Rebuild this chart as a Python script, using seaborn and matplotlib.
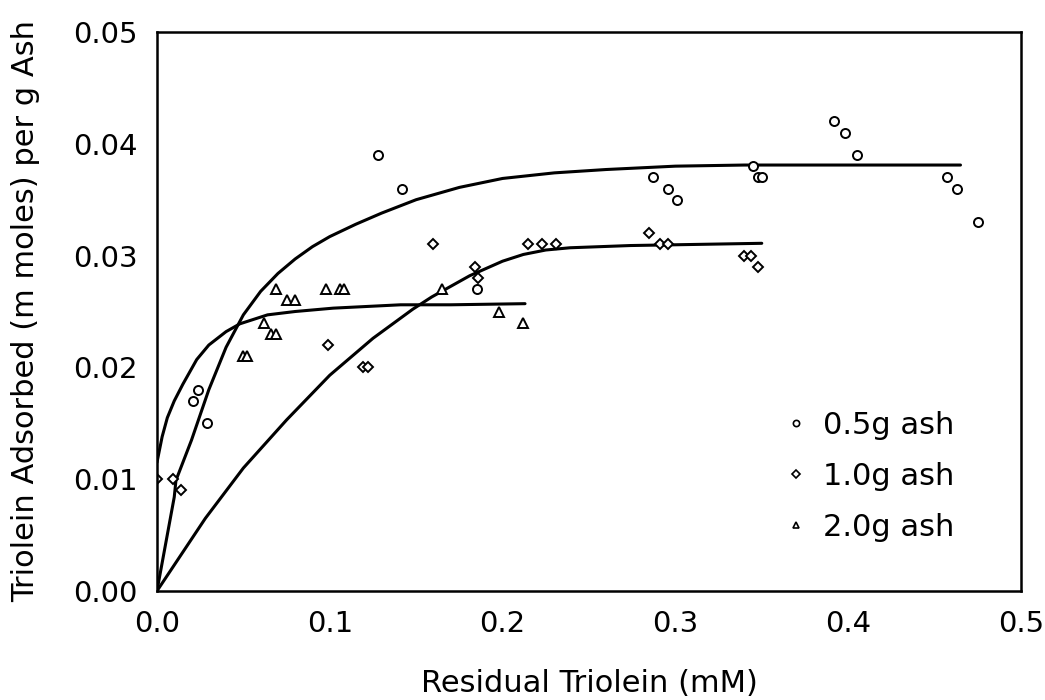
import numpy as np
import pandas as pd
import seaborn as sns
import matplotlib
matplotlib.use("Agg")
import matplotlib.pyplot as plt
from matplotlib.lines import Line2D

# measured points, residual triolein (mM) vs adsorbed (m moles / g ash)
x_05 = [0.021, 0.024, 0.029, 0.128, 0.142, 0.185, 0.287, 0.296, 0.301,
        0.345, 0.348, 0.350, 0.392, 0.398, 0.405, 0.457, 0.463, 0.475]
y_05 = [0.017, 0.018, 0.015, 0.039, 0.036, 0.027, 0.037, 0.036, 0.035,
        0.038, 0.037, 0.037, 0.042, 0.041, 0.039, 0.037, 0.036, 0.033]

x_10 = [0.000, 0.009, 0.014, 0.099, 0.119, 0.122, 0.160, 0.184, 0.186,
        0.215, 0.223, 0.231, 0.285, 0.291, 0.296, 0.340, 0.344, 0.348]
y_10 = [0.010, 0.010, 0.009, 0.022, 0.020, 0.020, 0.031, 0.029, 0.028,
        0.031, 0.031, 0.031, 0.032, 0.031, 0.031, 0.030, 0.030, 0.029]

x_20 = [0.050, 0.052, 0.062, 0.066, 0.069, 0.069, 0.075, 0.080, 0.098,
        0.106, 0.108, 0.165, 0.198, 0.212]
y_20 = [0.021, 0.021, 0.024, 0.023, 0.023, 0.027, 0.026, 0.026, 0.027,
        0.027, 0.027, 0.027, 0.025, 0.024]

# fitted curves
fit_x_05 = [0.0, 0.010, 0.011, 0.020, 0.030, 0.040, 0.050, 0.060, 0.070, 0.080,
            0.090, 0.100, 0.115, 0.130, 0.150, 0.175, 0.200, 0.230, 0.260, 0.300,
            0.340, 0.400, 0.465]
fit_y_05 = [0.0, 0.0084, 0.0099, 0.0135, 0.0180, 0.0218, 0.0247, 0.0268, 0.0284, 0.0297,
            0.0308, 0.0317, 0.0328, 0.0338, 0.0350, 0.0361, 0.0369, 0.0374, 0.0377, 0.0380,
            0.0381, 0.0381, 0.0381]

fit_x_10 = [0.0, 0.028, 0.050, 0.075, 0.100, 0.125, 0.148, 0.159, 0.181,
            0.200, 0.212, 0.225, 0.239, 0.274, 0.350]
fit_y_10 = [0.0, 0.0065, 0.0110, 0.0153, 0.0193, 0.0226, 0.0252, 0.0263, 0.0282,
            0.0295, 0.0301, 0.0305, 0.0307, 0.0309, 0.0311]

fit_x_20 = [0.0, 0.003, 0.006, 0.010, 0.015, 0.023, 0.030, 0.040, 0.048, 0.064,
            0.080, 0.102, 0.141, 0.170, 0.213]
fit_y_20 = [0.0115, 0.0138, 0.0155, 0.0170, 0.0185, 0.0207, 0.0220, 0.0232, 0.0239, 0.0247,
            0.0250, 0.0253, 0.0256, 0.0256, 0.0257]

labels = ["0.5g ash", "1.0g ash", "2.0g ash"]
markers = ["o", "D", "^"]

sns.set_theme(style="white")
plt.rcParams["font.family"] = ["DejaVu Sans"]

fig = plt.figure(figsize=(10.45, 7), dpi=100)
ax = fig.add_axes([0.1502, 0.1557, 0.8268, 0.7986])

points = [(x_05, y_05), (x_10, y_10), (x_20, y_20)]
fits = [(fit_x_05, fit_y_05), (fit_x_10, fit_y_10), (fit_x_20, fit_y_20)]

for (fx, fy) in fits:
    df = pd.DataFrame({"x": fx, "y": fy})
    sns.lineplot(data=df, x="x", y="y", ax=ax, color="black", linewidth=2.2,
                 estimator=None, sort=False)

sizes = [6.5, 5.5, 6.5]
for (px, py), m, s in zip(points, markers, sizes):
    df = pd.DataFrame({"x": px, "y": py})
    ax.plot(df["x"], df["y"], linestyle="none", marker=m, markersize=s,
            markerfacecolor="white", markeredgecolor="black", markeredgewidth=1.4)

ax.set_xlim(0, 0.5)
ax.set_ylim(0, 0.05)
ax.set_xticks(np.arange(0, 0.51, 0.1))
ax.set_yticks(np.arange(0, 0.051, 0.01))
ax.set_xticklabels([f"{v:.1f}" for v in np.arange(0, 0.51, 0.1)])
ax.set_yticklabels([f"{v:.2f}" for v in np.arange(0, 0.051, 0.01)])
ax.tick_params(direction="inout", length=10, width=1.0, labelsize=21,
               colors="black", pad=9)
for sp in ax.spines.values():
    sp.set_color("black")
    sp.set_linewidth(1.8)

ax.set_xlabel("Residual Triolein (mM)", fontsize=22, color="black")
ax.set_ylabel("Triolein Adsorbed (m moles) per g Ash", fontsize=22, color="black")
ax.xaxis.set_label_coords(0.5, -0.14)
ax.yaxis.set_label_coords(-0.135, 0.5)

handles = [Line2D([], [], linestyle="none", marker=m, markersize=4.5,
                  markerfacecolor="white", markeredgecolor="black",
                  markeredgewidth=1.2) for m in markers]
leg = ax.legend(handles, labels, loc="upper left", bbox_to_anchor=(0.729, 0.322),
                frameon=False, fontsize=22, handlelength=0.6, handletextpad=0.6,
                labelspacing=0.72, borderpad=0, borderaxespad=0)
for t in leg.get_texts():
    t.set_color("black")

fig.savefig("out.png", dpi=100, facecolor="white")
